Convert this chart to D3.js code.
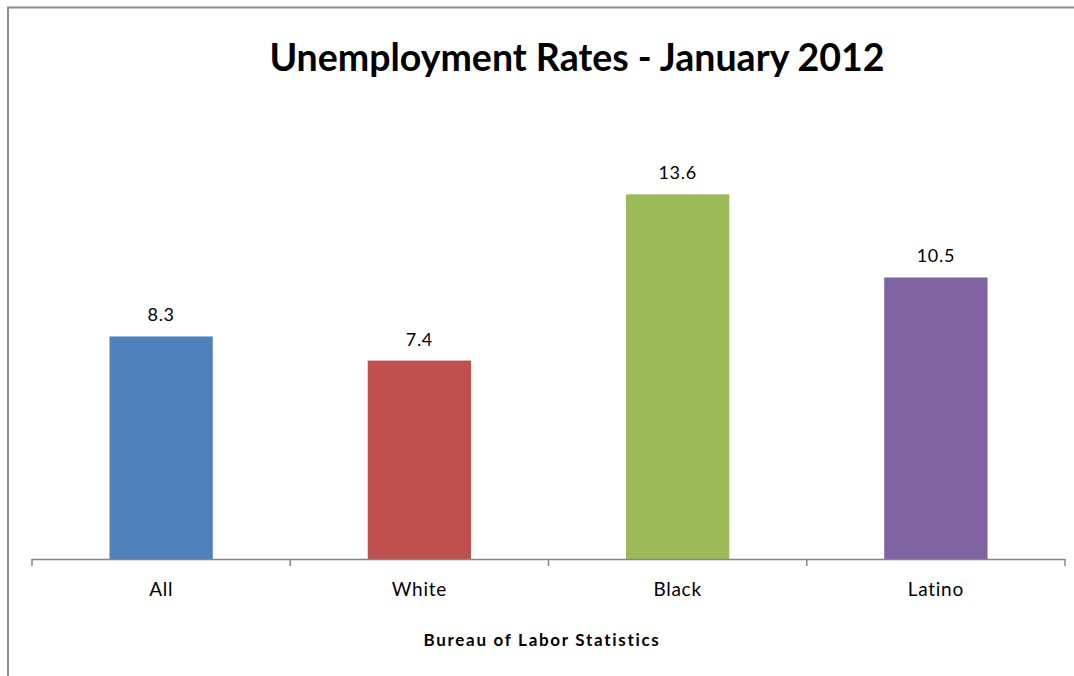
<!DOCTYPE html>
<html>
<head>
<meta charset="utf-8">
<script src="https://cdn.jsdelivr.net/npm/d3@7"></script>
<style>
  body { margin: 0; background: #fff; overflow: hidden; }
  svg { display: block; font-family: Lato, "Open Sans", sans-serif; }
</style>
</head>
<body>
<div id="chart"></div>
<script>
const categories = ['All', 'White', 'Black', 'Latino'];
const rates = [8.3, 7.4, 13.6, 10.5];
const barColors = ['#4F81BD', '#C0504D', '#9BBB59', '#8064A2'];
const titleText = 'Unemployment Rates - January 2012';
const axisTitle = 'Bureau of Labor Statistics';

const width = 1074;
const height = 676;
const margin = { top: 130, right: 9, bottom: 117, left: 32 };

const svg = d3.select('#chart').append('svg')
  .attr('width', width)
  .attr('height', height);

// chart frame (runs off right and bottom edges like the original)
svg.append('rect')
  .attr('x', 8)
  .attr('y', 7.5)
  .attr('width', width + 20)
  .attr('height', height + 20)
  .attr('fill', 'none')
  .attr('stroke', '#8c8c8c')
  .attr('stroke-width', 2);

const x = d3.scaleBand()
  .domain(categories)
  .range([margin.left, width - margin.right])
  .paddingInner(0.6)
  .paddingOuter(0.3);

const y = d3.scaleLinear()
  .domain([0, 16])
  .range([height - margin.bottom, margin.top]);

const baseY = y(0);

// bars
svg.selectAll('rect.bar')
  .data(rates)
  .enter().append('rect')
  .attr('class', 'bar')
  .attr('x', (d, i) => x(categories[i]))
  .attr('y', d => y(d))
  .attr('width', x.bandwidth())
  .attr('height', d => baseY - y(d))
  .attr('fill', (d, i) => barColors[i]);

// value labels
svg.selectAll('text.val')
  .data(rates)
  .enter().append('text')
  .attr('class', 'val')
  .attr('x', (d, i) => x(categories[i]) + x.bandwidth() / 2)
  .attr('y', d => y(d) - 15)
  .attr('text-anchor', 'middle')
  .style('font-size', '18px')
  .style('letter-spacing', '0.7px')
  .attr('fill', '#000')
  .text(d => d.toFixed(1));

// x axis: line with ticks on category boundaries
const bounds = d3.range(categories.length + 1).map(i => margin.left + i * (width - margin.left - margin.right) / categories.length);
svg.append('line')
  .attr('x1', bounds[0])
  .attr('x2', bounds[bounds.length - 1])
  .attr('y1', baseY + 0.5)
  .attr('y2', baseY + 0.5)
  .attr('stroke', '#868686')
  .attr('stroke-width', 1.5);

svg.selectAll('line.tick')
  .data(bounds)
  .enter().append('line')
  .attr('class', 'tick')
  .attr('x1', d => d)
  .attr('x2', d => d)
  .attr('y1', baseY)
  .attr('y2', baseY + 7)
  .attr('stroke', '#868686')
  .attr('stroke-width', 1.5);

// category labels
svg.selectAll('text.cat')
  .data(categories)
  .enter().append('text')
  .attr('class', 'cat')
  .attr('x', d => x(d) + x.bandwidth() / 2)
  .attr('y', baseY + 37)
  .attr('text-anchor', 'middle')
  .style('font-size', '19px')
  .style('letter-spacing', '0.7px')
  .attr('fill', '#000')
  .text(d => d);

// axis title
svg.append('text')
  .attr('x', 542)
  .attr('y', 646)
  .attr('text-anchor', 'middle')
  .style('font-size', '17px')
  .style('letter-spacing', '1.7px')
  .style('font-weight', 'bold')
  .text(axisTitle);

// chart title
svg.append('text')
  .attr('x', 577)
  .attr('y', 71)
  .attr('text-anchor', 'middle')
  .style('font-size', '37.5px')
  .style('font-weight', 'bold')
  .text(titleText);
</script>
</body>
</html>
